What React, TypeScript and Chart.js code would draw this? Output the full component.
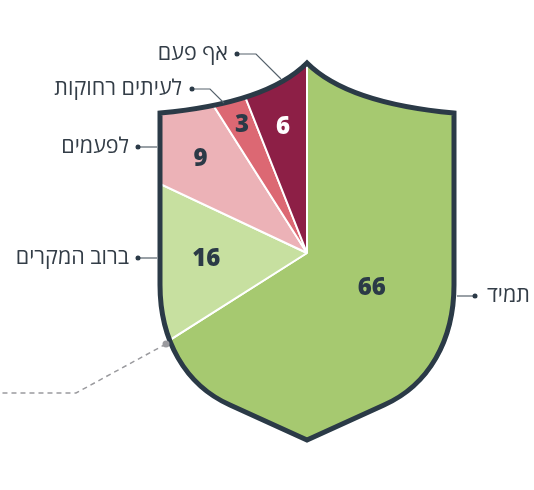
import React, { useEffect, useRef } from "react";
import { Chart, registerables } from "chart.js";

Chart.register(...registerables);

const categories = ["תמיד", "ברוב המקרים", "לפעמים", "לעיתים רחוקות", "אף פעם"];
const values = [66, 16, 9, 3, 6];
const sliceColors = ["#a6c970", "#c7e0a0", "#ecb2b7", "#dc6873", "#8d1f46"];
const valueLabelColors = ["#2b3a47", "#2b3a47", "#2b3a47", "#2b3a47", "#ffffff"];
const valueLabelRadii = [74, 101, 142, 143, 128];

const DARK = "#2b3a47";

function shieldPath(ctx: CanvasRenderingContext2D) {
  ctx.beginPath();
  ctx.moveTo(307, 63);
  ctx.bezierCurveTo(339, 95, 399, 108, 454, 113);
  ctx.lineTo(454, 285);
  ctx.bezierCurveTo(454, 340, 429, 385, 384, 405);
  ctx.lineTo(307, 440);
  ctx.lineTo(230, 405);
  ctx.bezierCurveTo(185, 385, 160, 340, 160, 285);
  ctx.lineTo(160, 113);
  ctx.bezierCurveTo(215, 108, 275, 95, 307, 63);
  ctx.closePath();
}

const shieldPlugin = {
  id: "shield",
  beforeDatasetsDraw(chart: any) {
    const ctx = chart.ctx;
    ctx.save();
    shieldPath(ctx);
    ctx.clip();
  },
  afterDatasetsDraw(chart: any) {
    const ctx = chart.ctx;
    ctx.restore();
    ctx.save();
    shieldPath(ctx);
    ctx.lineWidth = 5;
    ctx.lineJoin = "miter";
    ctx.strokeStyle = DARK;
    ctx.stroke();
    ctx.restore();

    // value labels
    const meta = chart.getDatasetMeta(0);
    ctx.save();
    ctx.font = "800 24px 'Open Sans'";
    ctx.textAlign = "center";
    ctx.textBaseline = "middle";
    meta.data.forEach((arc: any, i: number) => {
      const mid = (arc.startAngle + arc.endAngle) / 2;
      const r = valueLabelRadii[i];
      ctx.fillStyle = valueLabelColors[i];
      ctx.fillText(String(values[i]), arc.x + Math.cos(mid) * r, arc.y + Math.sin(mid) * r);
    });
    ctx.restore();

    // leader lines and category labels
    const leaders: { pts: number[][]; tx: number; ty: number; align: CanvasTextAlign }[] = [
      { pts: [[457, 296], [475, 296]], tx: 487, ty: 296, align: "left" },
      { pts: [[157, 258], [138, 258]], tx: 129, ty: 258, align: "right" },
      { pts: [[157, 147], [138, 147]], tx: 129, ty: 147, align: "right" },
      { pts: [[224, 103], [210, 89], [192, 89]], tx: 182, ty: 89, align: "right" },
      { pts: [[281, 79], [256, 54], [237, 54]], tx: 228, ty: 54, align: "right" },
    ];
    ctx.save();
    leaders.forEach((l, i) => {
      ctx.beginPath();
      ctx.moveTo(l.pts[0][0], l.pts[0][1]);
      for (let k = 1; k < l.pts.length; k++) ctx.lineTo(l.pts[k][0], l.pts[k][1]);
      ctx.strokeStyle = "#56626c";
      ctx.lineWidth = 1.2;
      ctx.stroke();
      const end = l.pts[l.pts.length - 1];
      ctx.beginPath();
      ctx.arc(end[0], end[1], 2.5, 0, Math.PI * 2);
      ctx.fillStyle = DARK;
      ctx.fill();
      ctx.font = "21.5px 'Open Sans', 'DejaVu Sans'";
      ctx.textAlign = l.align;
      ctx.textBaseline = "middle";
      ctx.fillStyle = "#333d47";
      ctx.fillText(categories[i], l.tx, l.ty);
    });

    // dashed grey pointer
    ctx.beginPath();
    ctx.moveTo(166, 344);
    ctx.lineTo(76, 393);
    ctx.lineTo(0, 393);
    ctx.setLineDash([5, 4]);
    ctx.strokeStyle = "#9a9a9e";
    ctx.lineWidth = 1.5;
    ctx.stroke();
    ctx.setLineDash([]);
    ctx.beginPath();
    ctx.arc(166, 344, 3.5, 0, Math.PI * 2);
    ctx.fillStyle = "#9a9a9e";
    ctx.fill();
    ctx.restore();
  },
};

export default function App() {
  const ref = useRef<HTMLCanvasElement>(null);
  useEffect(() => {
    if (!ref.current) return;
    const chart = new Chart(ref.current, {
      type: "pie",
      data: {
        labels: categories,
        datasets: [
          {
            data: values,
            backgroundColor: sliceColors,
            borderColor: "#ffffff",
            borderWidth: 2,
          },
        ],
      },
      options: {
        animation: false,
        responsive: false,
        maintainAspectRatio: false,
        layout: { padding: { left: 80, right: 0, top: 16, bottom: 0 } },
        plugins: { legend: { display: false }, tooltip: { enabled: false } },
      },
      plugins: [shieldPlugin],
    });
    return () => chart.destroy();
  }, []);
  return (
    <div style={{ position: "fixed", left: 0, top: 0, width: 534, height: 490, background: "#fff" }}>
      <canvas ref={ref} width={534} height={490} style={{ width: 534, height: 490 }} />
    </div>
  );
}
